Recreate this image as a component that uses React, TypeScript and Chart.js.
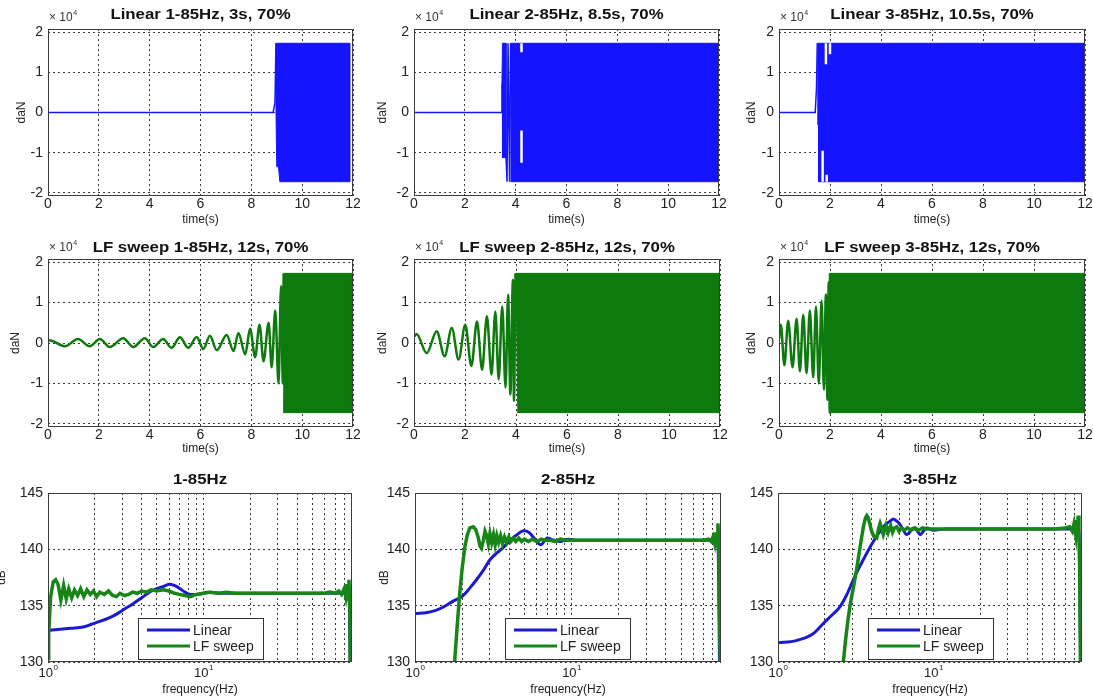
import React, { useEffect, useRef } from "react";
import { Chart, registerables } from "chart.js";
Chart.register(...registerables);

// ---------------- axis ticks ----------------
const timeTicks = [0, 2, 4, 6, 8, 10, 12];
const timeTickLabels = ["0", "2", "4", "6", "8", "10", "12"];
const forceTicks = [-2, -1, 0, 1, 2];
const freqGridTicks = [1, 2, 3, 4, 5, 6, 7, 8, 9, 10, 20, 30, 40, 50, 60, 70, 80];
const freqLabelTicks = [1, 10];
const freqLabelExp = ["0", "1"];
const dbTicks = [130, 135, 140, 145];

// ---------------- time-domain data (force in 10^4 daN) ----------------
// Linear 1-85Hz, 3s
const lin1Line: [number, number][] = [[0, 0], [8.86, 0], [8.93, 0.25], [8.97, 1.72]];
const lin1Block: [number, number][] = [[8.97, 0], [8.97, 1.72], [11.87, 1.72], [11.87, -1.72], [9.12, -1.72], [9.07, -1.35], [9.0, -1.35], [8.97, 0]];

// Linear 2-85Hz, 8.5s
const lin2Line: [number, number][] = [[0, 0], [3.43, 0], [3.46, 0.7], [3.62, -1.1], [3.66, -1.72], [3.7, 1.72], [3.76, -1.72], [3.8, 1.72]];
const lin2Clump: [number, number][] = [[3.46, 0.7], [3.48, 1.72], [3.62, 1.72], [3.62, -1.12], [3.46, -1.12]];
const lin2Block: [number, number][] = [[3.8, 1.72], [11.96, 1.72], [11.96, -1.72], [3.8, -1.72]];
// light gaps inside the dense part (t, force; null = break)
const lin2Gaps: [number, number | null][] = [[4.23, 1.72], [4.23, 1.5], [4.24, null], [4.23, -0.45], [4.23, -1.25]];

// Linear 3-85Hz, 10.5s
const lin3Line: [number, number][] = [[0, 0], [1.42, 0], [1.47, 0.6], [1.5, 1.72]];
const lin3Block: [number, number][] = [[1.5, 1.72], [11.96, 1.72], [11.96, -1.72], [1.55, -1.72], [1.55, -0.3], [1.5, -0.3]];
const lin3Gaps: [number, number | null][] = [
  [1.84, 1.72], [1.84, 1.2], [1.85, null], [2.0, 1.72], [2.0, 1.45], [2.01, null],
  [1.71, -0.95], [1.71, -1.72], [1.72, null], [1.87, -1.55], [1.87, -1.72],
];

// LF sweep 1-85Hz, 12s
const lf1Wave: [number, number][] = [
  [0, 0.05], [0.05, 0.07], [0.66, -0.08], [1.18, 0.1], [1.64, -0.08], [2.04, 0.1], [2.43, -0.1],
  [2.96, 0.12], [3.35, -0.1], [3.81, 0.12], [4.14, -0.1], [4.53, 0.1], [4.86, -0.12], [5.19, 0.14],
  [5.52, -0.12], [5.85, 0.15], [6.11, -0.15], [6.37, 0.18], [6.64, -0.18], [7.03, 0.2], [7.3, -0.2],
  [7.49, 0.25], [7.76, -0.28], [7.95, 0.35], [8.15, -0.35], [8.32, 0.45], [8.48, -0.45], [8.68, 0.5],
  [8.8, -0.6], [8.94, 0.8], [9.07, -1.0], [9.17, 1.4], [9.24, -1.0], [9.27, 1.72],
];
const lf1Block: [number, number][] = [[9.27, 1.72], [11.96, 1.72], [11.96, -1.72], [9.25, -1.72]];

// LF sweep 2-85Hz, 12s
const lf2Wave: [number, number][] = [
  [0, 0.15], [0.1, 0.22], [0.5, -0.25], [0.89, 0.29], [1.2, -0.33], [1.48, 0.37], [1.75, -0.41],
  [2.01, 0.45], [2.25, -0.57], [2.47, 0.53], [2.67, -0.66], [2.86, 0.66], [3.04, -0.78], [3.19, 0.78],
  [3.32, -0.9], [3.46, 0.9], [3.59, -1.1], [3.69, 1.19], [3.78, -1.27], [3.88, 1.56], [3.92, -1.43],
  [3.98, 1.72],
];
const lf2Block: [number, number][] = [[3.98, 1.72], [12.0, 1.72], [12.0, -1.72], [4.05, -1.72]];

// LF sweep 3-85Hz, 12s
const lf3Wave: [number, number][] = [
  [0, 0.1], [0.07, 0.45], [0.21, -0.55], [0.36, 0.55], [0.53, -0.6], [0.69, 0.6], [0.82, -0.7],
  [0.95, 0.7], [1.08, -0.75], [1.21, 0.8], [1.34, -0.85], [1.45, 0.9], [1.56, -1.0], [1.67, 1.05],
  [1.76, -1.15], [1.84, 1.2], [1.9, -1.4], [1.95, 1.5], [1.99, -1.72], [2.0, 1.72],
];
const lf3Block: [number, number][] = [[2.0, 1.72], [11.96, 1.72], [11.96, -1.72], [2.02, -1.72]];

// ---------------- frequency-domain data (dB) ----------------
const f1Linear: [number, number][] = [
  [1.0, 132.8], [1.2, 132.9], [1.4, 133.0], [1.68, 133.1], [1.9, 133.35], [2.15, 133.6], [2.45, 133.9],
  [2.76, 134.25], [3.1, 134.7], [3.54, 135.2], [4.0, 135.7], [4.53, 136.25], [5.0, 136.5], [5.5, 136.7],
  [6.09, 136.9], [6.6, 136.75], [7.06, 136.5], [7.6, 136.2], [8.2, 136.0], [9.0, 136.0], [10, 136.1],
  [11, 136.2], [13, 136.1], [20, 136.1], [40, 136.1], [60, 136.1], [80, 136.1], [86, 136.0], [86.8, 134.0], [87.5, 130.0],
];
const f1Sweep: [number, number][] = [
  [1.0, 130.3], [1.01, 132.5], [1.04, 135.8], [1.08, 137.1], [1.12, 137.3], [1.16, 136.9], [1.21, 135.5],
  [1.26, 136.8], [1.31, 135.6], [1.36, 136.5], [1.42, 135.7], [1.48, 136.4], [1.55, 135.9], [1.62, 136.5],
  [1.7, 135.8], [1.78, 136.4], [1.87, 136.0], [1.96, 136.3], [2.05, 135.8], [2.15, 136.2], [2.3, 136.0],
  [2.45, 136.3], [2.6, 135.9], [2.75, 135.8], [2.9, 136.1], [3.1, 135.9], [3.3, 136.0], [3.5, 136.2],
  [3.75, 136.1], [4.0, 136.3], [4.3, 136.2], [4.6, 136.4], [5.0, 136.3], [5.5, 136.4], [6.0, 136.3],
  [6.5, 136.1], [7.0, 136.0], [7.6, 135.9], [8.2, 135.8], [9.0, 136.0], [10, 136.1], [11, 136.2],
  [12.5, 136.1], [14, 136.2], [16, 136.1], [20, 136.1], [30, 136.1], [40, 136.1], [50, 136.1], [60, 136.1],
  [65, 136.2], [70, 136.1], [74, 136.3], [77, 136.0], [80, 136.5], [82, 135.8], [83.5, 136.9], [85, 135.6],
  [86, 137.3], [86.8, 135.8], [87.3, 134.0], [87.7, 130.0],
];
const f2Linear: [number, number][] = [
  [1.0, 134.3], [1.2, 134.4], [1.37, 134.6], [1.55, 134.95], [1.75, 135.4], [2.03, 135.9], [2.25, 136.6],
  [2.47, 137.3], [2.75, 138.2], [3.02, 139.1], [3.35, 139.7], [3.68, 140.2], [4.05, 140.8], [4.48, 141.3],
  [4.95, 141.65], [5.35, 141.5], [5.75, 141.0], [6.35, 140.4], [7.0, 141.0], [7.7, 140.8], [8.5, 140.7],
  [9.5, 140.9], [11, 140.8], [15, 140.8], [30, 140.8], [60, 140.8], [80, 140.8], [86, 140.7], [87, 137.0], [88, 130.0],
];
const f2Sweep: [number, number][] = [
  [1.79, 130.0], [1.86, 133.2], [1.93, 136.1], [2.0, 138.3], [2.08, 140.2], [2.16, 141.3], [2.24, 141.9],
  [2.36, 142.0], [2.45, 141.7], [2.54, 141.0], [2.6, 140.3], [2.66, 140.1], [2.73, 140.8], [2.8, 141.6],
  [2.87, 141.2], [2.94, 140.5], [3.01, 141.4], [3.09, 140.6], [3.17, 141.3], [3.25, 140.4], [3.33, 141.2],
  [3.42, 140.6], [3.52, 141.2], [3.62, 140.5], [3.73, 141.1], [3.85, 140.6], [3.97, 141.1], [4.1, 140.7],
  [4.25, 141.0], [4.4, 140.7], [4.6, 141.0], [4.8, 140.7], [5.0, 140.9], [5.3, 140.7], [5.6, 140.9],
  [6.0, 140.7], [6.4, 140.9], [6.8, 140.8], [7.3, 140.8], [7.8, 140.7], [8.5, 140.9], [9.2, 140.8],
  [10, 140.8], [13, 140.8], [20, 140.8], [40, 140.8], [60, 140.8], [70, 140.8], [75, 140.9], [78, 140.7],
  [80, 141.1], [82, 140.5], [83.5, 141.5], [85, 140.3], [86, 142.3], [87, 141.0], [88, 135.0], [89, 130.0],
];
const f3Linear: [number, number][] = [
  [1.0, 131.7], [1.31, 131.9], [1.68, 132.5], [1.95, 133.4], [2.2, 134.1], [2.5, 134.9], [2.75, 135.9],
  [3.05, 137.3], [3.3, 138.3], [3.54, 139.1], [3.8, 139.9], [4.1, 140.7], [4.53, 141.6], [4.9, 142.2],
  [5.26, 142.5], [5.51, 142.7], [5.8, 142.5], [6.09, 142.2], [6.4, 141.7], [6.7, 141.3], [7.0, 141.5],
  [7.4, 141.9], [7.8, 141.7], [8.2, 141.3], [8.6, 141.6], [9.0, 141.9], [10, 141.7], [12, 141.8],
  [20, 141.8], [40, 141.8], [80, 141.8], [86, 141.6], [87, 138.0], [88, 130.0],
];
const f3Sweep: [number, number][] = [
  [2.63, 130.0], [2.72, 132.0], [2.82, 133.8], [2.92, 135.2], [3.05, 136.6], [3.2, 138.2], [3.37, 140.2],
  [3.54, 142.0], [3.65, 142.8], [3.72, 143.0], [3.8, 142.8], [3.9, 142.2], [4.0, 141.6], [4.15, 141.1],
  [4.31, 141.0], [4.42, 141.8], [4.53, 142.3], [4.65, 141.8], [4.75, 141.3], [4.85, 141.7], [4.95, 142.1],
  [5.1, 141.5], [5.2, 141.9], [5.3, 142.1], [5.45, 141.5], [5.6, 141.9], [5.8, 142.0], [6.0, 141.6],
  [6.2, 141.9], [6.5, 141.7], [6.8, 141.9], [7.2, 141.7], [7.6, 141.9], [8.0, 141.7], [8.5, 141.9],
  [9, 141.8], [10, 141.8], [15, 141.8], [30, 141.8], [50, 141.8], [60, 141.8], [70, 141.9], [75, 142.0],
  [78, 141.6], [80, 142.3], [82, 141.3], [83, 142.6], [84, 141.2], [85, 143.0], [86, 141.5], [87, 138.0], [88, 130.0],
];

const legendLabels = ["Linear", "LF sweep"];

// ---------------- styling ----------------
const FONT = '"Liberation Sans", Arial, Helvetica, sans-serif';
const BLUE_T = "#1414ff";
const GREEN_T = "#0c7a0c";
const BLUE_F = "#1a1ad0";
const GREEN_F = "#178517";
const GRID = "#3a3a3a";
const TXT = "#222";

type Box = { L: number; T: number; R: number; B: number };
const PAD_L = 48, PAD_T = 29, PAD_R = 10, PAD_B = 40;

const pts = (a: [number, number | null][]) => a.map(([x, y]) => ({ x, y }));

function drawSup(ctx: CanvasRenderingContext2D, base: string, sup: string, cx: number | null, left: number | null, y: number, size: number) {
  ctx.font = `${size}px ${FONT}`;
  const w1 = ctx.measureText(base).width;
  ctx.font = `${Math.round(size * 0.62)}px ${FONT}`;
  const w2 = ctx.measureText(sup).width;
  const x0 = left !== null ? left : (cx as number) - (w1 + w2) / 2;
  ctx.textAlign = "left";
  ctx.textBaseline = "middle";
  ctx.font = `${size}px ${FONT}`;
  ctx.fillText(base, x0, y);
  ctx.font = `${Math.round(size * 0.62)}px ${FONT}`;
  ctx.fillText(sup, x0 + w1 + 0.5, y - size * 0.38);
}

function makeDecor(cfg: any) {
  return {
    id: "decor",
    afterDraw(chart: any) {
      const { ctx, chartArea: a } = chart;
      ctx.save();
      ctx.setLineDash([]);
      ctx.strokeStyle = "#3c3c3c";
      ctx.lineWidth = 1;
      ctx.strokeRect(a.left + 0.5, a.top + 0.5, a.right - a.left - 1, a.bottom - a.top - 1);
      // title (slightly widened, as in the source figure)
      ctx.save();
      ctx.translate((a.left + a.right) / 2, a.top - cfg.titleDy);
      ctx.scale(1.12, 1);
      ctx.fillStyle = "#111";
      ctx.font = `bold 15px ${FONT}`;
      ctx.textAlign = "center";
      ctx.textBaseline = "middle";
      ctx.fillText(cfg.title, 0, 0);
      ctx.restore();
      ctx.fillStyle = TXT;
      ctx.font = `12px ${FONT}`;
      ctx.textAlign = "center";
      ctx.textBaseline = "middle";
      ctx.fillText(cfg.xLabel, (a.left + a.right) / 2, a.bottom + cfg.xLabelDy);
      if (cfg.yLabel) {
        ctx.save();
        ctx.translate(a.left - cfg.yLabelDx, (a.top + a.bottom) / 2);
        ctx.rotate(-Math.PI / 2);
        ctx.font = `12px ${FONT}`;
        ctx.textAlign = "center";
        ctx.textBaseline = "middle";
        ctx.fillText(cfg.yLabel, 0, 0);
        ctx.restore();
      }
      if (cfg.exp) {
        ctx.fillStyle = "#333";
        drawSup(ctx, "\u00d7 10", "4", null, a.left + 1, a.top - 11, 12);
      }
      if (cfg.kind === "freq") {
        ctx.fillStyle = TXT;
        const xs = chart.scales.x;
        freqLabelTicks.forEach((v, i) => {
          drawSup(ctx, "10", freqLabelExp[i], xs.getPixelForValue(v), null, a.bottom + 11, 13);
        });
        // legend
        const bx = a.left + 90, by = a.bottom - 44, bw = 125, bh = 41;
        ctx.fillStyle = "#fff";
        ctx.fillRect(bx, by, bw, bh);
        ctx.strokeStyle = "#333";
        ctx.lineWidth = 1;
        ctx.strokeRect(bx + 0.5, by + 0.5, bw, bh);
        const rows = [
          { c: BLUE_F, t: legendLabels[0], y: by + 12 },
          { c: GREEN_F, t: legendLabels[1], y: by + 28 },
        ];
        rows.forEach((r) => {
          ctx.strokeStyle = r.c;
          ctx.lineWidth = 3;
          ctx.beginPath();
          ctx.moveTo(bx + 9, r.y);
          ctx.lineTo(bx + 52, r.y);
          ctx.stroke();
          ctx.fillStyle = TXT;
          ctx.font = `14px ${FONT}`;
          ctx.textAlign = "left";
          ctx.textBaseline = "middle";
          ctx.fillText(r.t, bx + 55, r.y + 1);
        });
      }
      ctx.restore();
    },
  };
}

function buildConfig(cfg: any) {
  const isFreq = cfg.kind === "freq";
  const tickFont = { family: FONT, size: 14 };
  // datasets listed bottom-to-top; 'order' makes later ones draw on top
  const datasets = cfg.datasets.map((d: any, i: number, arr: any[]) => ({ ...d, order: arr.length - i }));
  return {
    type: "line",
    data: { datasets },
    options: {
      animation: false,
      responsive: false,
      maintainAspectRatio: false,
      events: [],
      layout: { padding: { top: PAD_T, left: 0, right: PAD_R, bottom: 0 } },
      plugins: { legend: { display: false }, tooltip: { enabled: false }, title: { display: false } },
      elements: { point: { radius: 0 }, line: { tension: 0 } },
      scales: {
        x: {
          type: isFreq ? "logarithmic" : "linear",
          min: isFreq ? 1 : 0,
          max: isFreq ? 90 : 12,
          afterFit: (s: any) => { s.height = PAD_B; },
          afterBuildTicks: (s: any) => {
            s.ticks = (isFreq ? freqGridTicks : timeTicks).map((v) => ({ value: v }));
          },
          ticks: {
            autoSkip: false,
            maxRotation: 0,
            padding: 0,
            font: tickFont,
            color: TXT,
            callback: (v: number) => {
              if (isFreq) return "";
              const i = timeTicks.indexOf(v);
              return i >= 0 ? timeTickLabels[i] : "";
            },
          },
          grid: { color: GRID, lineWidth: 1, drawTicks: false },
          border: { display: false, dash: [2, 3] },
        },
        y: {
          type: "linear",
          min: isFreq ? 130 : -2.075,
          max: isFreq ? 145 : 2.075,
          afterFit: (s: any) => { s.width = PAD_L; },
          afterBuildTicks: (s: any) => {
            s.ticks = (isFreq ? dbTicks : forceTicks).map((v) => ({ value: v }));
          },
          ticks: { padding: 5, font: tickFont, color: TXT, callback: (v: number) => String(v) },
          grid: { color: GRID, lineWidth: 1, drawTicks: false },
          border: { display: false, dash: [2, 3] },
        },
      },
    },
    plugins: [makeDecor(cfg)],
  };
}

function Panel({ cfg }: { cfg: any }) {
  const ref = useRef<HTMLCanvasElement | null>(null);
  const b: Box = cfg.box;
  const W = b.R - b.L + PAD_L + PAD_R;
  const H = b.B - b.T + PAD_T + PAD_B;
  useEffect(() => {
    const chart = new Chart(ref.current as HTMLCanvasElement, buildConfig(cfg) as any);
    return () => chart.destroy();
  }, []);
  return (
    <canvas
      ref={ref}
      width={W}
      height={H}
      style={{ position: "absolute", left: b.L - PAD_L, top: b.T - PAD_T, width: W, height: H }}
    />
  );
}

const block = (d: [number, number][], c: string) => ({
  data: pts(d), borderColor: c, backgroundColor: c, borderWidth: 1, fill: "shape", pointRadius: 0,
});
const line = (d: [number, number | null][], c: string, w: number, smooth = false) => ({
  data: pts(d), borderColor: c, borderWidth: w, fill: false, pointRadius: 0, spanGaps: false,
  cubicInterpolationMode: smooth ? "monotone" : "default",
});

const panels = [
  {
    kind: "time", box: { L: 48, T: 29, R: 353, B: 196 }, title: "Linear 1-85Hz, 3s, 70%", titleDy: 14,
    xLabel: "time(s)", xLabelDy: 24, yLabel: "daN", yLabelDx: 26, exp: true,
    datasets: [block(lin1Block, BLUE_T), line(lin1Line, BLUE_T, 1.5)],
  },
  {
    kind: "time", box: { L: 414, T: 29, R: 719, B: 196 }, title: "Linear 2-85Hz, 8.5s, 70%", titleDy: 14,
    xLabel: "time(s)", xLabelDy: 24, yLabel: "daN", yLabelDx: 31, exp: true,
    datasets: [block(lin2Block, BLUE_T), block(lin2Clump, BLUE_T), line(lin2Line, BLUE_T, 1.5), line(lin2Gaps, "#ffffff", 2.5)],
  },
  {
    kind: "time", box: { L: 779, T: 29, R: 1085, B: 196 }, title: "Linear 3-85Hz, 10.5s, 70%", titleDy: 14,
    xLabel: "time(s)", xLabelDy: 24, yLabel: "daN", yLabelDx: 27, exp: true,
    datasets: [block(lin3Block, BLUE_T), line(lin3Line, BLUE_T, 1.5), line(lin3Gaps, "#ffffff", 2.5)],
  },
  {
    kind: "time", box: { L: 48, T: 259, R: 353, B: 427 }, title: "LF sweep 1-85Hz, 12s, 70%", titleDy: 11,
    xLabel: "time(s)", xLabelDy: 22, yLabel: "daN", yLabelDx: 32, exp: true,
    datasets: [block(lf1Block, GREEN_T), line(lf1Wave, GREEN_T, 2.5, true)],
  },
  {
    kind: "time", box: { L: 414, T: 259, R: 720, B: 427 }, title: "LF sweep 2-85Hz, 12s, 70%", titleDy: 11,
    xLabel: "time(s)", xLabelDy: 22, yLabel: "daN", yLabelDx: 31, exp: true,
    datasets: [block(lf2Block, GREEN_T), line(lf2Wave, GREEN_T, 2.5, true)],
  },
  {
    kind: "time", box: { L: 779, T: 259, R: 1085, B: 427 }, title: "LF sweep 3-85Hz, 12s, 70%", titleDy: 11,
    xLabel: "time(s)", xLabelDy: 22, yLabel: "daN", yLabelDx: 27, exp: true,
    datasets: [block(lf3Block, GREEN_T), line(lf3Wave, GREEN_T, 2.5, true)],
  },
  {
    kind: "freq", box: { L: 48, T: 493, R: 352, B: 662 }, title: "1-85Hz", titleDy: 13,
    xLabel: "frequency(Hz)", xLabelDy: 28, yLabel: "dB", yLabelDx: 46, exp: false,
    datasets: [line(f1Linear, BLUE_F, 3, true), line(f1Sweep, GREEN_F, 3.5)],
  },
  {
    kind: "freq", box: { L: 415, T: 493, R: 721, B: 662 }, title: "2-85Hz", titleDy: 13,
    xLabel: "frequency(Hz)", xLabelDy: 28, yLabel: "dB", yLabelDx: 30, exp: false,
    datasets: [line(f2Linear, BLUE_F, 3, true), line(f2Sweep, GREEN_F, 3.5)],
  },
  {
    kind: "freq", box: { L: 778, T: 493, R: 1082, B: 662 }, title: "3-85Hz", titleDy: 13,
    xLabel: "frequency(Hz)", xLabelDy: 28, yLabel: "", yLabelDx: 30, exp: false,
    datasets: [line(f3Linear, BLUE_F, 3, true), line(f3Sweep, GREEN_F, 3.5)],
  },
];

export default function App() {
  return (
    <div style={{ position: "absolute", left: 0, top: 0, width: 1093, height: 700, background: "#fff", overflow: "hidden" }}>
      {panels.map((p, i) => (
        <Panel key={i} cfg={p} />
      ))}
    </div>
  );
}
